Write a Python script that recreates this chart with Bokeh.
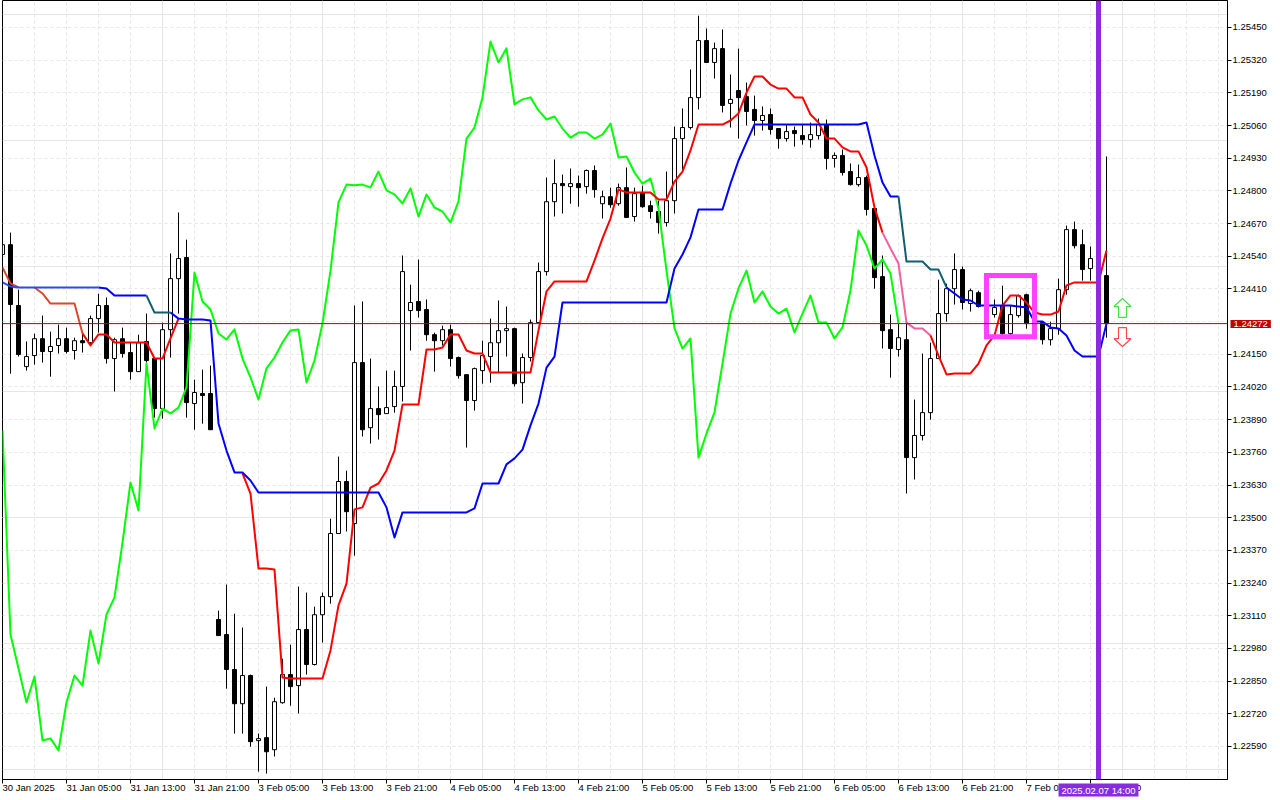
from math import nan
from bokeh.plotting import figure
from bokeh.embed import file_html
from bokeh.resources import INLINE
from bokeh.models import (ColumnDataSource, FixedTicker, Grid, Label, LinearAxis, Range1d, Span)

# Prices in points (1 point = 0.00001)
open_pts = [124547,124586,124344,124101,124145,124212,124161,124185,124212,124165,124204,124196,124292,124344,124133,124212,124157,124081,124201,124133,
123934,124248,124451,124535,123954,123994,123994,123095,123035,122896,122760,122872,122613,122625,122577,122764,122876,122832,123055,122916,
123114,123186,123437,123644,123477,124117,123858,123934,123914,123942,124022,124324,124360,124328,124228,124204,124248,124137,124069,123966,
124085,124141,124196,124244,124252,124037,124137,124276,124479,124757,124829,124817,124829,124817,124881,124749,124777,124749,124813,124698,
124793,124741,124718,124674,124761,125008,125052,125171,125398,125311,125366,125148,125199,125175,125124,125080,125104,125048,125008,125040,
125020,125004,125020,125064,124929,124941,124877,124825,124853,124730,124459,124248,124169,124208,123739,123827,123918,124133,124312,124411,
124487,124352,124395,124332,124308,124344,124232,124304,124387,124260,124276,124208,124252,124407,124646,124586,124491,124463,124463]
high_pts = [124618,124634,124407,124201,124232,124304,124240,124268,124256,124216,124232,124304,124391,124376,124216,124256,124196,124228,124312,124137,
124276,124551,124714,124606,124049,124089,124105,123130,123234,123118,123063,122876,122641,122828,122784,122939,122995,123226,123202,123146,
123202,123496,123743,123687,124344,124360,124133,124022,124085,124085,124543,124427,124527,124368,124236,124264,124268,124141,124069,124097,
124204,124292,124364,124340,124256,124153,124288,124515,124853,124925,124865,124889,124861,124885,124901,124801,124813,124829,124893,124813,
124821,124761,124761,124877,125056,125128,125283,125497,125446,125390,125442,125263,125366,125231,125179,125136,125128,125048,125064,125056,
125064,125072,125088,125084,124953,124965,124909,124905,124861,124741,124543,124308,124272,124272,123970,124153,124196,124447,124431,124551,
124499,124411,124403,124364,124368,124423,124344,124387,124391,124292,124280,124280,124451,124662,124678,124646,124579,124563,124937]
low_pts = [124403,124073,124141,124085,124109,124117,124061,124153,124153,124129,124157,124185,124236,124113,124002,124137,124049,124081,124117,123898,
123894,124137,124312,123898,123850,123874,123850,123031,122820,122641,122641,122589,122490,122482,122550,122760,122752,122721,122876,122912,
123003,123158,123437,123445,123349,123823,123795,123811,123914,123918,123962,124165,124296,124204,124081,124185,124101,124053,123779,123926,
124033,124037,124077,124141,124022,123954,124121,124276,124463,124698,124710,124749,124737,124789,124773,124690,124733,124741,124694,124678,
124733,124690,124630,124658,124710,124881,125044,125124,125311,125247,125112,125052,125008,125060,125020,125040,125024,124968,124996,124976,
124984,124972,125004,124885,124893,124861,124821,124817,124702,124411,124173,124057,124141,123596,123652,123807,123890,124133,124280,124348,
124328,124320,124336,124316,124296,124224,124224,124296,124252,124244,124189,124185,124228,124387,124571,124443,124443,124443,124216]
close_pts = [124586,124348,124149,124141,124212,124161,124181,124212,124161,124204,124196,124292,124344,124133,124208,124153,124081,124196,124125,123934,
124248,124451,124531,123958,123998,123986,123850,123031,122896,122760,122872,122609,122621,122569,122768,122876,122828,123055,122916,123114,
123186,123437,123644,123524,124117,123850,123934,123910,123938,124022,124479,124356,124324,124228,124204,124248,124133,124065,123966,124093,
124145,124196,124244,124252,124033,124137,124276,124479,124757,124829,124821,124829,124813,124881,124805,124777,124745,124813,124694,124789,
124737,124718,124674,124761,125008,125052,125171,125398,125311,125366,125140,125164,125171,125116,125080,125100,125044,125008,125036,125028,
125004,125024,125064,124929,124941,124873,124825,124853,124726,124455,124244,124173,124216,123739,123827,123918,124133,124312,124411,124487,
124356,124403,124340,124348,124336,124232,124308,124383,124272,124276,124208,124252,124407,124646,124582,124487,124531,124515,124272]

red_pts = [124495,124432,124416,nan,124416,124392,124352,124352,124352,124352,124233,124185,124229,124229,124197,124197,124197,124197,124197,124133,
124133,124213,124292,nan,nan,nan,nan,nan,nan,nan,123676,123596,123298,123298,123294,122864,122860,122860,122860,122860,
122860,122972,123151,123238,123533,123541,123620,123636,123688,123767,123950,123950,123950,124169,124169,124177,124229,124229,124165,124153,
124153,124078,124078,124078,124078,124078,124078,124245,124400,124440,124440,124440,124440,124440,124523,124611,124690,124806,124794,124794,
124794,124794,124766,124766,124837,124877,124961,125064,125064,125064,125064,125080,125108,125191,125255,125255,125223,125207,125207,125172,
125172,125104,125072,125008,125008,124973,124957,124957,124893,124734,124634,124571,124511,124276,124253,124253,124225,124145,124070,124074,
124074,124074,124113,124185,124225,124344,124384,124384,124356,124316,124308,124308,124320,124424,124436,124436,124436,124436,124563]
blue_pts = [124436,124420,124416,124416,124416,124416,124416,124416,124416,124416,124416,124416,124416,124412,124384,124384,124384,124384,124384,124316,
124316,124316,124292,124288,124288,124288,124284,123875,123767,123680,123680,123648,123600,123600,123600,123600,123600,123600,123600,123600,
123600,123600,123600,123600,123600,123600,123600,123600,123541,123421,123521,123521,123521,123521,123521,123521,123521,123521,123521,123537,
123636,123636,123636,123712,123736,123771,123867,123954,124097,124141,124356,124356,124356,124356,124356,124356,124356,124356,124356,124356,
124356,124356,124356,124356,124491,124547,124615,124726,124726,124726,124726,124829,124921,124993,125064,125064,125064,125064,125064,125064,
125064,125064,125064,125064,125064,125064,125064,125064,125072,124941,124833,124778,124778,124519,124519,124519,124487,124487,124416,124392,
124368,124364,124344,124344,124344,124344,124344,124340,124336,124280,124280,124257,124253,124225,124165,124141,124141,124141,124272]
green_pts = [123847,123035,122900,122765,122868,122614,122622,122574,122765,122872,122832,123051,122920,123115,123183,123401,123640,123529,124113,123855,
123934,123915,123938,124018,124475,124360,124328,124233,124209,124249,124133,124058,123970,124094,124137,124197,124245,124249,124038,124125,
124273,124483,124754,124825,124822,124825,124814,124877,124802,124786,124750,124810,124698,124786,124734,124718,124674,124758,125008,125052,
125172,125394,125311,125367,125144,125164,125172,125120,125084,125096,125048,125012,125032,125032,125008,125024,125068,124933,124937,124873,
124829,124849,124730,124483,124253,124173,124213,123739,123835,123919,124113,124312,124412,124483,124356,124400,124340,124312,124332,124237,
124312,124384,124276,124276,124213,124257,124404,124642,124583,124491,124527,124471,124273]

x_tick_bars = [0,8,16,24,32,40,48,56,64,72,80,88,96,104,112,120,128,136]
x_tick_labels = ["30 Jan 2025","31 Jan 05:00","31 Jan 13:00","31 Jan 21:00","3 Feb 05:00","3 Feb 13:00","3 Feb 21:00",
                 "4 Feb 05:00","4 Feb 13:00","4 Feb 21:00","5 Feb 05:00","5 Feb 13:00","5 Feb 21:00","6 Feb 05:00",
                 "6 Feb 13:00","6 Feb 21:00","7 Feb 05:00","7 Feb 13:00"]
y_tick_labels = [1.25450,1.25320,1.25190,1.25060,1.24930,1.24800,1.24670,1.24540,1.24410,1.24150,1.24020,1.23890,
                 1.23760,1.23630,1.23500,1.23370,1.23240,1.23110,1.22980,1.22850,1.22720,1.22590]
y_grid_levels = y_tick_labels + [1.24280]
x_grid_bars = list(range(0, 156, 4))

last_price = 1.24272
marker_bar = 137
marker_time = "2025.02.07 14:00"
box_left, box_right, box_top, box_bottom = 123, 129, 124463, 124220
signal_bar = 140
up_arrow = [124372, 124340, 124297]    # tip, wings, base
down_arrow = [124256, 124212, 124181]  # base, wings, tip
arrow_half_width = 1.06
arrow_stem_half_width = 0.5

FONT = "Liberation Sans"
FSIZE = "9.5px"
P = 100000.0

n = len(open_pts)
bars = list(range(n))
px = lambda a: [v / P for v in a]
o, h, l, c = px(open_pts), px(high_pts), px(low_pts), px(close_pts)

p = figure(width=1280, height=798, frame_width=1225, frame_height=779,
           output_backend="svg", toolbar_location=None,
           x_range=Range1d(0, 153.125), y_range=Range1d(1.224585, 1.255574),
           x_axis_location=None, y_axis_location=None,
           min_border_left=2, min_border_top=0, min_border_right=0, min_border_bottom=0,
           background_fill_color="white", border_fill_color="white",
           outline_line_color="black", outline_line_width=1)

xaxis = LinearAxis(ticker=FixedTicker(ticks=x_tick_bars),
                   major_label_overrides=dict(zip(x_tick_bars, x_tick_labels)),
                   major_label_orientation=-1e-4,
                   major_tick_out=4, major_tick_in=0, minor_tick_out=0, minor_tick_in=0,
                   major_label_standoff=4, major_label_text_font=FONT,
                   major_label_text_font_size=FSIZE, major_label_text_color="black",
                   axis_line_color="black", major_tick_line_color="black")
p.add_layout(xaxis, "below")
yaxis = LinearAxis(ticker=FixedTicker(ticks=y_tick_labels),
                   major_label_overrides={v: f"{v:.5f}" for v in y_tick_labels},
                   major_tick_out=4, major_tick_in=0, minor_tick_out=0, minor_tick_in=0,
                   major_label_standoff=1, major_label_text_font=FONT,
                   major_label_text_font_size=FSIZE, major_label_text_color="black",
                   axis_line_color="black", major_tick_line_color="black")
p.add_layout(yaxis, "right")

p.add_layout(Grid(dimension=0, ticker=FixedTicker(ticks=x_grid_bars), grid_line_color="#E6E6E6",
                  grid_line_dash="3 3", grid_line_width=1))
p.add_layout(Grid(dimension=1, ticker=FixedTicker(ticks=y_grid_levels), grid_line_color="#E6E6E6",
                  grid_line_dash="3 3", grid_line_width=1))

src = ColumnDataSource(dict(
    x=bars, high=h, low=l,
    top=[max(a, b) for a, b in zip(o, c)], bottom=[min(a, b) for a, b in zip(o, c)],
    fill=["white" if b >= a else "black" for a, b in zip(o, c)]))
p.segment("x", "high", "x", "low", source=src, line_color="black", line_width=1)
p.vbar("x", 0.5, "bottom", "top", source=src, fill_color="fill", line_color="black", line_width=1)


def draw(series, default, runs, width=2):
    vals = px(series)
    cuts = sorted({0, len(vals) - 1} | {k for r in runs for k in r[:2]})
    for a, b in zip(cuts[:-1], cuts[1:]):
        col = default
        for s, e, cc in runs:
            if s <= a and b <= e:
                col = cc
        p.line(bars[a:b + 1], vals[a:b + 1], line_color=col, line_width=width,
               line_join="round")


draw(green_pts + [nan] * (n - len(green_pts)), "#00FF00", [])
draw(red_pts, "#FF0000", [(0, 10, "#D8492B"), (110, 116, "#F2609F")])
draw(blue_pts, "#0000FF", [(0, 12, "#2A4FE0"), (18, 21, "#0F5F70"), (112, 118, "#0F5F70")])

p.quad(left=[box_left], right=[box_right], top=[box_top / P], bottom=[box_bottom / P],
       fill_color=None, line_color="#FF40FF", line_width=5, line_join="miter")

dx = [0, arrow_half_width, arrow_stem_half_width, arrow_stem_half_width,
      -arrow_stem_half_width, -arrow_stem_half_width, -arrow_half_width]
up_y = [up_arrow[0], up_arrow[1], up_arrow[1], up_arrow[2], up_arrow[2], up_arrow[1], up_arrow[1]]
dn_y = [down_arrow[2], down_arrow[1], down_arrow[1], down_arrow[0], down_arrow[0], down_arrow[1], down_arrow[1]]
p.patch([signal_bar + d for d in dx], [v / P for v in up_y], fill_color="white",
        line_color="#49DF49", line_width=1.2)
p.patch([signal_bar + d for d in dx], [v / P for v in dn_y], fill_color="white",
        line_color="#FF4A4A", line_width=1.2)

p.add_layout(Span(location=last_price, dimension="width", line_color="#A80808", line_width=1))
p.add_layout(Span(location=marker_bar, dimension="height", line_color="#8A2BE2", line_width=5))

# Transparent full-page layer for the two flags that sit over the axes
flags = figure(width=1280, height=800, output_backend="svg", toolbar_location=None,
               x_range=Range1d(0, 1280), y_range=Range1d(800, 0),
               x_axis_location=None, y_axis_location=None,
               min_border_left=0, min_border_top=0, min_border_right=0, min_border_bottom=0,
               background_fill_color=None, border_fill_color=None, outline_line_color=None)
flags.grid.visible = False
flags.styles = {"position": "absolute", "left": "0px", "top": "0px"}
flags.add_layout(Label(x=1230, y=323.5, text=f"{last_price:.5f}", text_color="white",
                       text_font=FONT, text_font_size=FSIZE, text_baseline="middle", text_align="left",
                       padding=(3, 1), background_fill_color="#C00000"))
flags.add_layout(Label(x=1098, y=789.5, text=marker_time, text_color="white",
                       text_font=FONT, text_font_size=FSIZE, text_baseline="middle", text_align="center",
                       padding=(3, 1), background_fill_color="#8A2BE2"))

open("out.html", "w").write(file_html([p, flags], INLINE))
